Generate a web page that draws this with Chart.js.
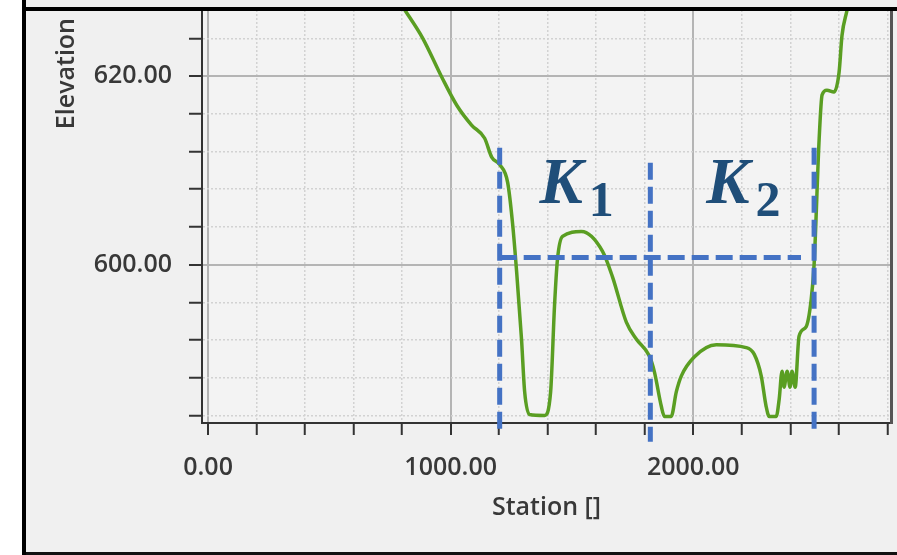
<!DOCTYPE html>
<html>
<head>
<meta charset="utf-8">
<script src="https://cdn.jsdelivr.net/npm/chart.js@4.4.1/dist/chart.umd.min.js"></script>
<style>
  body { margin: 0; background: #ffffff; }
  #bg { position: absolute; left: 22px; top: 0; width: 875px; height: 555px; background: #f0f0f0; }
  #wrap { position: absolute; left: 0; top: 0; width: 897px; height: 555px; }
  #frame { position: absolute; left: 22px; top: 7px; width: 880px; height: 548px; box-sizing: border-box;
           border-top: 4px solid #000; border-bottom: 3px solid #111; pointer-events: none; }
  #leftline { position: absolute; left: 22px; top: 0; width: 4px; height: 555px; background: #000; }
</style>
</head>
<body>
<div id="bg"></div>
<div id="wrap"><canvas id="myChart" width="897" height="555"></canvas></div>
<div id="frame"></div>
<div id="leftline"></div>
<script>
// station / elevation
var station = [770, 811, 885, 963, 1025, 1086, 1140, 1169, 1202, 1235, 1255, 1272, 1292, 1305, 1325,
  1387, 1412, 1428, 1440, 1461, 1539, 1626, 1667, 1724, 1765, 1819, 1840, 1868, 1881, 1909,
  1930, 1951, 2004, 2095, 2218, 2251, 2280, 2300, 2313, 2342, 2354, 2366, 2374, 2387, 2399,
  2407, 2420, 2436, 2465, 2486, 2498, 2519, 2531, 2551, 2580, 2601, 2613, 2634, 2646];
var elevation = [628.6, 627.0, 624.0, 619.9, 616.9, 614.8, 613.4, 611.4, 610.6, 608.7, 604.4, 599.2, 592.1, 586.5, 584.1,
  584.0, 586.5, 595.6, 600.5, 603.0, 603.5, 601.4, 598.7, 593.9, 592.1, 590.3, 588.6, 585.0, 583.9, 583.9,
  586.5, 588.2, 590.2, 591.5, 591.2, 590.5, 588.2, 585.0, 583.9, 583.9, 585.7, 588.7, 587.0, 588.7, 587.0,
  588.7, 587.0, 592.4, 593.4, 596.3, 600.0, 613.4, 618.0, 618.5, 618.3, 620.4, 624.3, 627.0, 628.6];

// K1 / K2 box lines (station, elevation)
var boxLeft = 1202;
var boxMid = 1823;
var boxRight = 2498;
var boxLevel = 600.74;
var boxTopSide = 612.4;
var boxTopMid = 610.8;
var boxBottomSide = 582.6;
var boxBottomMid = 581.2;
var boxLevelEnd = 2444;

// labels for the two sections
var sectionNames = ['K', 'K'];
var sectionSubs = ['1', '2'];
var sectionStations = [1366, 2053];
var sectionElev = [606.5, 606.5];

var xTickValues = [0, 1000, 2000];
var yTickValues = [600, 620];

var green = '#5a9e22';
var blue = '#4472c4';
var labelColor = '#383838';

var profile = [];
for (var i = 0; i < station.length; i++) {
  profile.push({x: station[i], y: elevation[i]});
}

function dashed(points) {
  return {
    data: points,
    borderColor: blue,
    borderWidth: 5,
    borderDash: [17, 7],
    pointRadius: 0,
    clip: false,
    order: 0
  };
}

// fixed tick positions: every 200 on x, every 4 on y
function stepTicks(from, to, step) {
  return function(scale) {
    var t = [];
    for (var v = from; v <= to; v += step) t.push({value: v});
    scale.ticks = t;
  };
}

function noPad(scale) {
  scale.paddingTop = 0;
  scale.paddingBottom = 0;
  scale.paddingLeft = 0;
  scale.paddingRight = 0;
}

var tickFont = {family: 'Open Sans', size: 25, weight: '600'};

var plotBg = {
  id: 'plotBg',
  beforeDraw: function(chart) {
    var a = chart.chartArea;
    var ctx = chart.ctx;
    ctx.save();
    ctx.fillStyle = '#f3f3f3';
    ctx.fillRect(a.left, a.top, a.right - a.left, a.bottom - a.top);
    ctx.restore();
  }
};

// y axis title sits near the top, a little below the frame
var yTitle = {
  id: 'yTitle',
  afterDraw: function(chart) {
    var ctx = chart.ctx;
    var ys = chart.scales.y;
    ctx.save();
    ctx.translate(ys.left + 41, chart.chartArea.top + 8);
    ctx.rotate(-Math.PI / 2);
    ctx.font = '600 25px "Open Sans"';
    ctx.fillStyle = labelColor;
    ctx.textAlign = 'right';
    ctx.textBaseline = 'middle';
    ctx.fillText('Elevation', 0, 0);
    ctx.restore();
  }
};

// draws K1 / K2 with a subscript
var sectionLabels = {
  id: 'sectionLabels',
  afterDatasetsDraw: function(chart) {
    var ctx = chart.ctx;
    var xs = chart.scales.x, ys = chart.scales.y;
    ctx.save();
    ctx.fillStyle = '#1f4e79';
    ctx.textBaseline = 'alphabetic';
    for (var i = 0; i < sectionNames.length; i++) {
      var px = xs.getPixelForValue(sectionStations[i]);
      var py = ys.getPixelForValue(sectionElev[i]);
      ctx.font = 'italic bold 65px "Liberation Serif"';
      ctx.fillText(sectionNames[i], px, py);
      var w = ctx.measureText(sectionNames[i]).width;
      ctx.font = 'bold 50px "Liberation Serif"';
      ctx.fillText(sectionSubs[i], px + w + 6, py + 13);
    }
    ctx.restore();
  }
};

function isMajor(v, list) {
  for (var i = 0; i < list.length; i++) {
    if (Math.abs(v - list[i]) < 1e-6) return true;
  }
  return false;
}

var ctx = document.getElementById('myChart').getContext('2d');
var myChart = new Chart(ctx, {
  type: 'line',
  data: {
    datasets: [
      dashed([{x: boxLeft, y: boxTopSide}, {x: boxLeft, y: boxBottomSide}]),
      dashed([{x: boxLeft, y: boxLevel}, {x: boxLevelEnd, y: boxLevel}]),
      dashed([{x: boxMid, y: boxTopMid}, {x: boxMid, y: boxBottomMid}]),
      dashed([{x: boxRight, y: boxTopSide}, {x: boxRight, y: boxBottomSide}]),
      {
        label: 'Elevation',
        data: profile,
        borderColor: green,
        borderWidth: 3.5,
        pointRadius: 0,
        cubicInterpolationMode: 'monotone',
        order: 1
      }
    ]
  },
  options: {
    responsive: false,
    animation: false,
    layout: {padding: {left: 26, top: 10, right: 6, bottom: 0}},
    plugins: {legend: {display: false}, tooltip: {enabled: false}},
    scales: {
      x: {
        type: 'linear',
        min: -25,
        max: 2815,
        afterBuildTicks: stepTicks(0, 2800, 200),
        afterFit: function(s) { s.height = 132; noPad(s); },
        ticks: {
          autoSkip: false,
          maxRotation: 0,
          padding: 18,
          color: labelColor,
          font: tickFont,
          callback: function(v) { return isMajor(v, xTickValues) ? v.toFixed(2) : ''; }
        },
        grid: {
          color: function(c) { return isMajor(c.tick.value, xTickValues) ? '#b4b4b4' : '#d2d2d2'; },
          lineWidth: function(c) { return isMajor(c.tick.value, xTickValues) ? 2 : 1.5; },
          tickColor: '#333',
          tickWidth: 2,
          tickLength: 12
        },
        border: {
          color: '#333',
          width: 2,
          dash: function(c) { return isMajor(c.tick.value, xTickValues) ? [] : [2, 2]; }
        },
        title: {
          display: true,
          text: 'Station []',
          color: labelColor,
          font: tickFont,
          padding: {top: 0, bottom: 32}
        }
      },
      y: {
        min: 583.2,
        max: 627,
        afterBuildTicks: stepTicks(584, 624, 4),
        afterFit: function(s) { s.width = 176; noPad(s); },
        ticks: {
          autoSkip: false,
          padding: 17,
          color: labelColor,
          font: tickFont,
          callback: function(v) { return isMajor(v, yTickValues) ? v.toFixed(2) : ''; }
        },
        grid: {
          color: function(c) { return isMajor(c.tick.value, yTickValues) ? '#b4b4b4' : '#d2d2d2'; },
          lineWidth: function(c) { return isMajor(c.tick.value, yTickValues) ? 2 : 1.5; },
          tickColor: '#333',
          tickWidth: 2,
          tickLength: 13
        },
        border: {
          color: '#333',
          width: 2,
          dash: function(c) { return isMajor(c.tick.value, yTickValues) ? [] : [2, 2]; }
        }
      },
      yr: {
        position: 'right',
        afterFit: function(s) { s.width = 0; noPad(s); },
        ticks: {display: false},
        grid: {display: false, drawTicks: false},
        border: {color: '#555', width: 3}
      }
    }
  },
  plugins: [plotBg, sectionLabels, yTitle]
});
</script>
</body>
</html>
